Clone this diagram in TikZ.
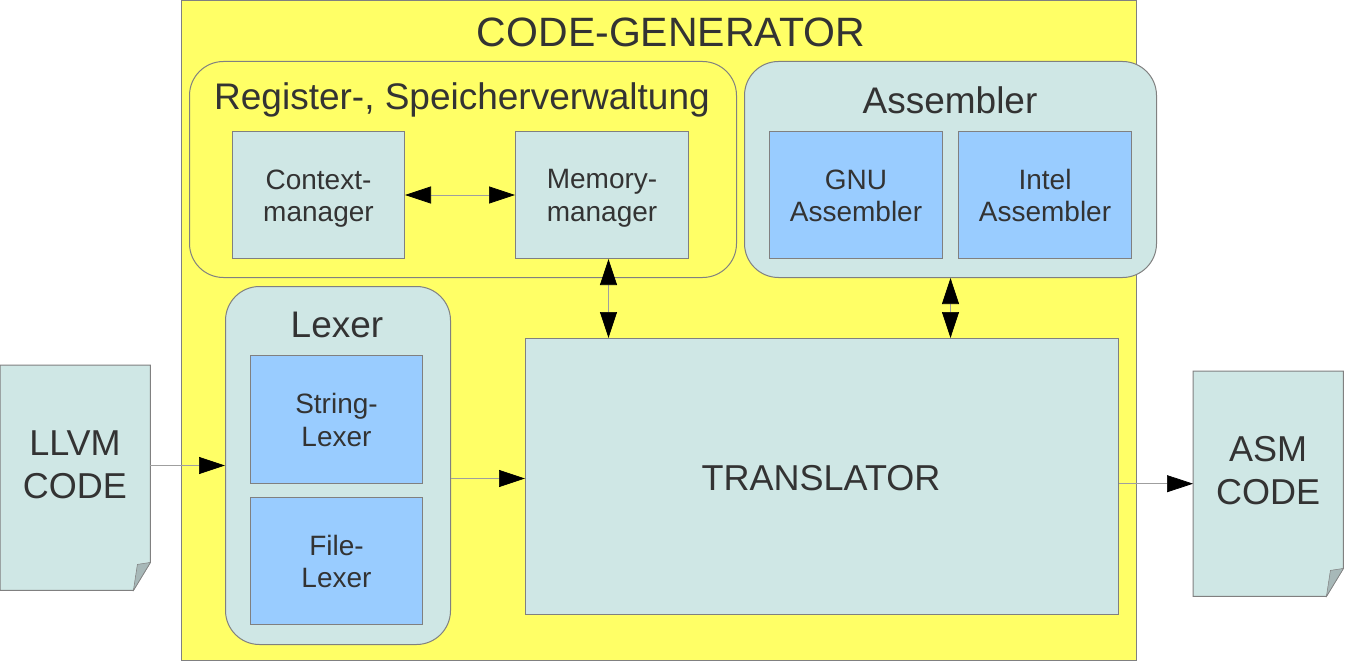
\documentclass[tikz,border=0pt]{standalone}
\usepackage{fontspec}
\setmainfont{Liberation Sans}
\usetikzlibrary{arrows.meta,calc}
\definecolor{cgyellow}{HTML}{FFFF66}
\definecolor{cgteal}{HTML}{CFE7E5}
\definecolor{cgblue}{HTML}{99CCFF}
\definecolor{cgborder}{HTML}{808080}
\definecolor{cgtext}{HTML}{333333}
\definecolor{cgfold}{HTML}{A7B8B8}
\newcommand\cgstrut{\rule[-5.6pt]{0pt}{32pt}}
\tikzset{
  every node/.style={text=cgtext},
  box/.style={draw=cgborder, line width=1pt, inner sep=0pt, align=center},
  tealbox/.style={box, fill=cgteal, font=\fontsize{28}{32}\selectfont},
  bluebox/.style={box, fill=cgblue, font=\fontsize{28}{32}\selectfont},
  group/.style={box, rounded corners=34pt},
  label/.style={inner sep=0pt, font=\fontsize{37}{42}\selectfont},
  docnode/.style={inner sep=0pt, align=center, font=\fontsize{36}{43}\selectfont},
  docshape/.style={draw=cgborder, line width=1pt, fill=cgteal},
  conn/.style={draw=gray!75, line width=0.7pt},
  bigtip/.tip={Triangle[length=26pt, width=17pt, color=black, fill=black]},
  arr/.style={conn, -{bigtip}},
  darr/.style={conn, {bigtip}-{bigtip}}
}
\begin{document}
\begin{tikzpicture}[x=1pt, y=-1pt]
\useasboundingbox (0,0) rectangle (1346,663);
% main generator
\node[box, fill=cgyellow, minimum width=955pt, minimum height=660pt, anchor=north west] (gen) at (181,0) {};
\node[inner sep=0pt, font=\fontsize{41}{46}\selectfont] (gentitle) at (671,32) {CODE-GENERATOR};
% groups
\node[group, fill=cgyellow, minimum width=547pt, minimum height=216pt, anchor=north west] (reg) at (189,61) {};
\node[label] (regtitle) at (462,100) {Register-, Speicherverwaltung};
\node[group, fill=cgteal, minimum width=412pt, minimum height=216pt, anchor=north west] (asmgrp) at (744,61) {};
\node[label] (asmtitle) at (950,100) {Assembler};
\node[group, fill=cgteal, minimum width=225pt, minimum height=358pt, anchor=north west] (lexgrp) at (225,286) {};
\node[label] (lextitle) at (337,325) {Lexer};
% inner boxes
\node[tealbox, minimum width=172pt, minimum height=127pt, anchor=north west] (ctx) at (232,131) {\cgstrut Context-\\manager\cgstrut};
\node[tealbox, minimum width=173pt, minimum height=127pt, anchor=north west] (mem) at (515,131) {\cgstrut Memory-\\manager\cgstrut};
\node[bluebox, minimum width=173pt, minimum height=127pt, anchor=north west] (gnu) at (769,131) {\cgstrut GNU\\Assembler\cgstrut};
\node[bluebox, minimum width=173pt, minimum height=127pt, anchor=north west] (intel) at (958,131) {\cgstrut Intel\\Assembler\cgstrut};
\node[bluebox, minimum width=172pt, minimum height=128pt, anchor=north west] (strlex) at (250,355) {\cgstrut String-\\Lexer\cgstrut};
\node[bluebox, minimum width=172pt, minimum height=127pt, anchor=north west] (filelex) at (250,497) {\cgstrut File-\\Lexer\cgstrut};
\node[box, fill=cgteal, minimum width=593pt, minimum height=276pt, anchor=north west] (trans) at (525,338) {};
\node[inner sep=0pt, font=\fontsize{36}{42}\selectfont] (transtext) at (821,478) {TRANSLATOR};
% documents
\node[docnode, minimum width=150pt, minimum height=225pt, anchor=north west] (llvm) at (0,365) {};
\draw[docshape] (llvm.north west) -- (llvm.north east) -- ($(llvm.south east)+(0,-28)$) -- ($(llvm.south east)+(-17,0)$) -- (llvm.south west) -- cycle;
\fill[cgfold, draw=cgborder, line width=0.5pt] ($(llvm.south east)+(0,-28)$) -- ($(llvm.south east)+(-13,-26)$) -- ($(llvm.south east)+(-17,0)$) -- cycle;
\node[docnode] (llvmtext) at (75,465) {LLVM\\CODE};
\node[docnode, minimum width=150pt, minimum height=225pt, anchor=north west] (asm) at (1193,371) {};
\draw[docshape] (asm.north west) -- (asm.north east) -- ($(asm.south east)+(0,-28)$) -- ($(asm.south east)+(-17,0)$) -- (asm.south west) -- cycle;
\fill[cgfold, draw=cgborder, line width=0.5pt] ($(asm.south east)+(0,-28)$) -- ($(asm.south east)+(-13,-26)$) -- ($(asm.south east)+(-17,0)$) -- cycle;
\node[docnode] (asmtext) at (1268,471) {ASM\\CODE};
% connectors
\coordinate (lexout) at ($(lexgrp.east)+(0,13)$);
\draw[darr] (ctx.east) -- (mem.west);
\draw[darr] ([xshift=6.5pt]mem.south) -- ([xshift=6.5pt]mem.south |- trans.north);
\draw[darr] (asmgrp.south) -- (asmgrp.south |- trans.north);
\draw[arr] (llvm.east |- lexgrp.west) -- (lexgrp.west);
\draw[arr] (lexout) -- (lexout -| trans.west);
\draw[arr] (trans.east |- asm.west) -- (asm.west);
\end{tikzpicture}
\end{document}
